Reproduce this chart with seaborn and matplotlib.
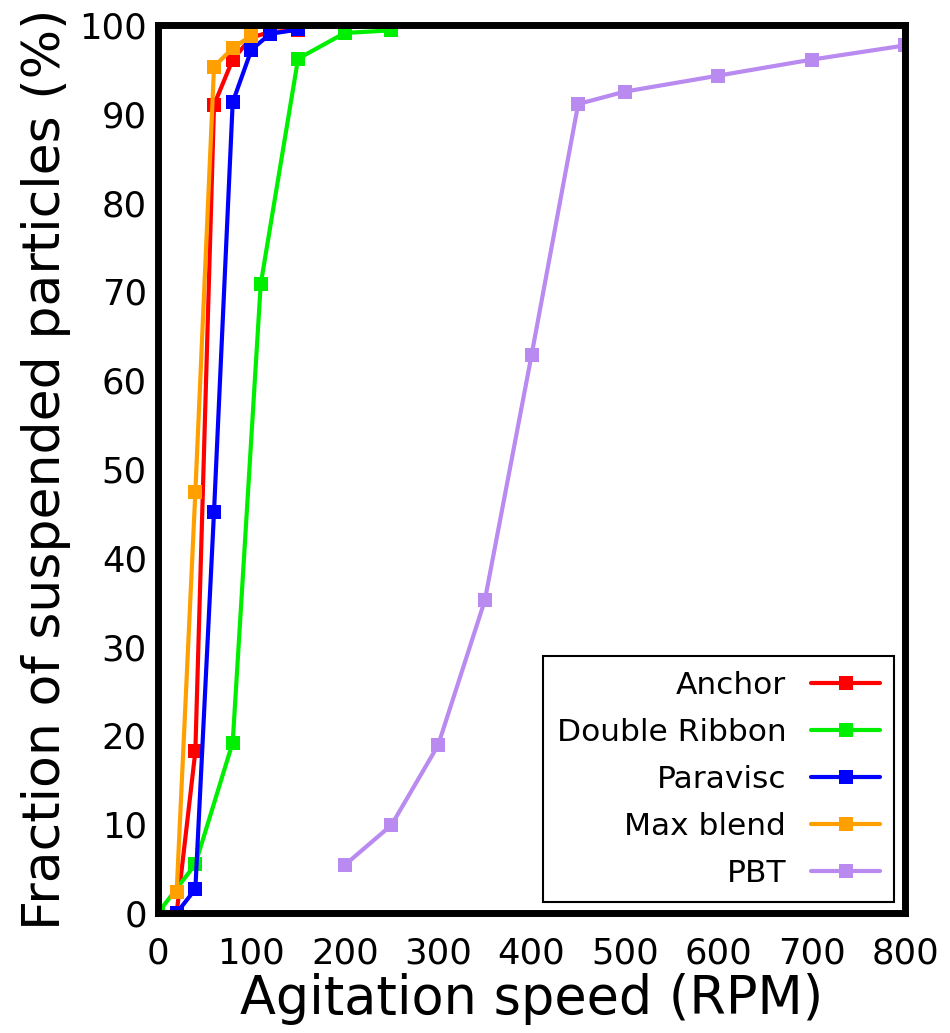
import matplotlib
matplotlib.use("Agg")
import matplotlib.pyplot as plt
import seaborn as sns
import pandas as pd

# ---- data ----
anchor_x = [20, 40, 60, 80, 100, 120, 150]
anchor_y = [0.0, 18.2, 91.0, 96.1, 98.6, 99.2, 99.4]

ribbon_x = [0, 40, 80, 110, 150, 200, 250]
ribbon_y = [0.0, 5.5, 19.2, 70.8, 96.2, 99.1, 99.4]

paravisc_x = [20, 40, 60, 80, 100, 120, 150]
paravisc_y = [0.0, 2.7, 45.2, 91.3, 97.2, 99.0, 99.5]

maxblend_x = [20, 40, 60, 80, 100]
maxblend_y = [2.4, 47.4, 95.3, 97.4, 98.8]

pbt_x = [200, 250, 300, 350, 400, 450, 500, 600, 700, 800]
pbt_y = [5.4, 9.9, 18.9, 35.2, 62.8, 91.1, 92.5, 94.3, 96.1, 97.7]

series_names = ["Anchor", "Double Ribbon", "Paravisc", "Max blend", "PBT"]
series_colors = ["#ff0000", "#00ee00", "#0000ff", "#ffa000", "#b98af0"]

x_ticks = [0, 100, 200, 300, 400, 500, 600, 700, 800]
y_ticks = [0, 10, 20, 30, 40, 50, 60, 70, 80, 90, 100]

sns.set_style("white")
plt.rcParams["font.family"] = ["DejaVu Sans"]
plt.rcParams["text.color"] = "black"
plt.rcParams["axes.labelcolor"] = "black"

fig = plt.figure(figsize=(9.5, 10.33), dpi=100)
ax = fig.add_axes([158 / 950, 120 / 1033, (905 - 158) / 950, (913 - 25) / 1033])

data = [(anchor_x, anchor_y), (ribbon_x, ribbon_y), (paravisc_x, paravisc_y),
        (maxblend_x, maxblend_y), (pbt_x, pbt_y)]
for (xs, ys), name, col in zip(data, series_names, series_colors):
    df = pd.DataFrame({"x": xs, "y": ys})
    sns.lineplot(data=df, x="x", y="y", ax=ax, color=col, marker="s",
                 markersize=10, markeredgewidth=0, linewidth=3, label=name,
                 sort=False, errorbar=None)

ax.set_xlim(0, 800)
ax.set_ylim(0, 100)
ax.set_xticks(x_ticks)
ax.set_yticks(y_ticks)
ax.tick_params(axis="both", direction="in", length=10, width=3.5,
               labelsize=25.5, colors="black", labelcolor="black",
               top=False, right=False)
ax.tick_params(axis="x", pad=17)
ax.tick_params(axis="y", pad=8)
for sp in ax.spines.values():
    sp.set_linewidth(5)
    sp.set_color("black")

ax.set_xlabel("Agitation speed (RPM)", fontsize=37.8, labelpad=2, color="black")
ax.set_ylabel("Fraction of suspended particles (%)", fontsize=37.5, labelpad=6,
              color="black")

leg = ax.legend(loc="lower right", fontsize=22.5, markerfirst=False,
                fancybox=False, framealpha=1, edgecolor="black",
                handlelength=2.2, labelspacing=0.58, borderaxespad=0.35,
                borderpad=0.45, handletextpad=0.8)
leg.get_frame().set_linewidth(1.5)
for t in leg.get_texts():
    t.set_color("black")

fig.savefig("out.png", dpi=100)
